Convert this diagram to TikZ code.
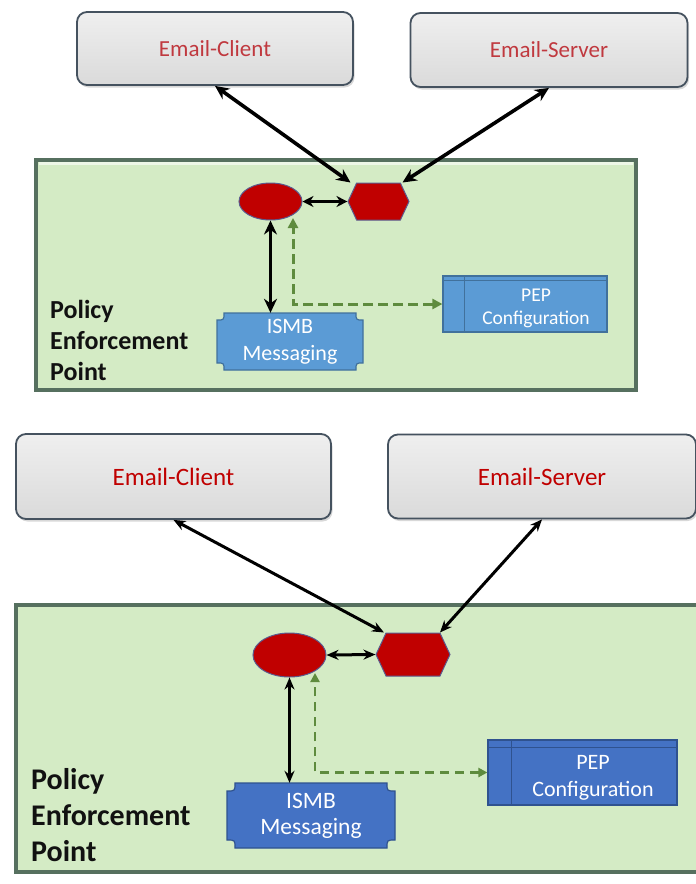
\documentclass[tikz,border=0pt]{standalone}
\usepackage{fontspec}
\setmainfont{Carlito}
\usetikzlibrary{arrows.meta,shapes.geometric,shapes.symbols,calc,shadows}
\definecolor{boxgray}{HTML}{E4E4E4}
\definecolor{boxtop}{HTML}{EFEFEF}
\definecolor{boxbot}{HTML}{DADADA}
\definecolor{boxedge}{HTML}{45525F}
\definecolor{txtredA}{HTML}{C0393F}
\definecolor{txtredB}{HTML}{C00000}
\definecolor{pepgreen}{HTML}{D4EBC5}
\definecolor{pepedge}{HTML}{56705F}
\definecolor{dotred}{HTML}{C00000}
\definecolor{dotedge}{HTML}{5B5B8E}
\definecolor{ltblue}{HTML}{5B9BD5}
\definecolor{ltblueedge}{HTML}{41719C}
\definecolor{dkblue}{HTML}{4472C4}
\definecolor{dkblueedge}{HTML}{2F528F}
\definecolor{dashgreen}{HTML}{5E8B3E}
\definecolor{inktext}{HTML}{111111}
\newcommand\fsz[2]{\fontsize{#1}{#2}\selectfont}
\begin{document}
\begin{tikzpicture}[x=1pt,y=1pt,
  graybox/.style={draw=boxedge, line width=1.8pt, top color=boxtop, bottom color=boxbot, rounded corners=10pt,
     drop shadow={opacity=0.3, shadow xshift=1.5pt, shadow yshift=-2.5pt}, inner sep=0pt},
  zone/.style={draw=pepedge, line width=3.5pt, fill=pepgreen, inner sep=0pt},
  redell/.style={ellipse, draw=dotedge, line width=1pt, fill=dotred, inner sep=0pt},
  redhex/.style={signal, signal to=west and east, signal pointer angle=130, draw=dotedge, line width=1pt, fill=dotred, inner sep=0pt},
  bluetext/.style={text=white, align=center, inner sep=0pt},
  biarrowA/.style={{Stealth[length=14pt,width=13pt]}-{Stealth[length=14pt,width=13pt]}, line width=3.6pt, black},
  biarrowB/.style={{Stealth[length=12pt,width=10pt]}-{Stealth[length=12pt,width=10pt]}, line width=3pt, black},
  dasharrowA/.style={{Triangle[length=10pt,width=10pt]}-{Triangle[length=10pt,width=10pt]}, dashgreen, line width=3pt, dash pattern=on 10pt off 5pt},
  dasharrowB/.style={{Triangle[length=9pt,width=9pt]}-{Triangle[length=9pt,width=9pt]}, dashgreen, line width=2.6pt, dash pattern=on 9pt off 6pt},
  policy/.style={anchor=north west, align=left, inner sep=0pt, text=inktext}
]
\useasboundingbox (0,0) rectangle (696,-884);
\clip (0,0) rectangle (696,-884);
\fill[white] (0,0) rectangle (696,-884);

% ================= upper diagram =================
\node[graybox, minimum width=276pt, minimum height=73pt, text=txtredA, font=\fsz{23}{28}] (ec1) at (215,-48.5) {Email-Client};
\node[graybox, minimum width=277pt, minimum height=74pt, text=txtredA, font=\fsz{23}{28}] (es1) at (549,-50) {Email-Server};

\node[zone, minimum width=600pt, minimum height=230pt] (zone1) at (336,-275) {};
\draw[white, opacity=0.6, line width=2.5pt] ($(zone1.north west)+(5,-5)$) -- ($(zone1.north east)+(-5,-5)$);

\node[redell, minimum width=63pt, minimum height=37pt] (ell1) at (270.5,-201.5) {};
\node[redhex, minimum width=61pt, minimum height=37pt] (hex1) at (378.5,-201.5) {};

\filldraw[fill=ltblue, draw=ltblueedge, line width=1.2pt]
  (224,-313) -- (356,-313) .. controls (356,-320) .. (363,-320) -- (363,-363)
  .. controls (356,-363) .. (356,-370) -- (224,-370) .. controls (224,-363) .. (217,-363)
  -- (217,-320) .. controls (224,-320) .. (224,-313) -- cycle;
\node[bluetext, font=\fsz{22}{27}, minimum width=146pt, minimum height=57pt] (ismb1) at (290,-341.5) {ISMB\\Messaging};

\node[fill=ltblue, draw=ltblueedge, line width=1.2pt, minimum width=164pt, minimum height=56pt, inner sep=0pt] (pep1) at (525,-304) {};
\draw[ltblueedge, line width=1.2pt] ($(pep1.north west)+(0,-5)$) -- ($(pep1.north east)+(0,-5)$);
\draw[ltblueedge, line width=1.2pt] ($(pep1.north west)+(22,0)$) -- ($(pep1.south west)+(22,0)$);
\node[bluetext, font=\fsz{19.5}{23}] (pep1t) at (536,-308.5) {PEP\\Configuration};

\node[policy, font=\bfseries\fsz{26}{31}] (pol1) at (50,-300) {Policy\\Enforcement\\Point};

\draw[biarrowA] (ec1.south) -- ($(hex1.north)+(-28,0)$);
\draw[biarrowA] (es1.south) -- ($(hex1.north)+(24,0)$);
\draw[biarrowA, line width=3pt, {Stealth[length=11pt,width=11pt]}-{Stealth[length=11pt,width=11pt]}] (ell1.east) -- (hex1.west);
\draw[biarrowA] (ell1.south) -- (ell1.south |- ismb1.north);
\draw[dasharrowA] (pep1.west) -| ($(ell1.center)+(22.5,-16.5)$);

% ================= lower diagram =================
\node[graybox, minimum width=315pt, minimum height=85pt, text=txtredB, font=\fsz{25}{30}] (ec2) at (173.5,-476.5) {Email-Client};
\node[graybox, minimum width=308pt, minimum height=84pt, text=txtredB, font=\fsz{25}{30}] (es2) at (542,-476.5) {Email-Server};

\node[zone, minimum width=694pt, minimum height=267pt] (zone2) at (363,-738.5) {};

\node[redell, minimum width=73pt, minimum height=44pt] (ell2) at (289.5,-655) {};
\node[redhex, minimum width=74pt, minimum height=43pt] (hex2) at (413,-654.5) {};

\filldraw[fill=dkblue, draw=dkblueedge, line width=1.2pt]
  (235,-783) -- (387,-783) .. controls (387,-791) .. (395,-791) -- (395,-840)
  .. controls (387,-840) .. (387,-848) -- (235,-848) .. controls (235,-840) .. (227,-840)
  -- (227,-791) .. controls (235,-791) .. (235,-783) -- cycle;
\node[bluetext, font=\fsz{23.5}{26}, minimum width=168pt, minimum height=65pt] (ismb2) at (311,-815.5) {ISMB\\Messaging};

\node[fill=dkblue, draw=dkblueedge, line width=1.2pt, minimum width=189pt, minimum height=65pt, inner sep=0pt] (pep2) at (582.5,-772.5) {};
\draw[dkblueedge, line width=1.2pt] ($(pep2.north west)+(0,-8)$) -- ($(pep2.north east)+(0,-8)$);
\draw[dkblueedge, line width=1.2pt] ($(pep2.north west)+(24,0)$) -- ($(pep2.south west)+(24,0)$);
\node[bluetext, font=\fsz{22}{27}] (pep2t) at (593,-777.5) {PEP\\Configuration};

\node[policy, font=\bfseries\fsz{30}{36}] (pol2) at (31,-768) {Policy\\Enforcement\\Point};

\draw[biarrowB] (ec2.south) -- ($(hex2.north)+(-29,0)$);
\draw[biarrowB] (es2.south) -- ($(hex2.north)+(27,0)$);
\draw[biarrowB] (ell2.east) -- (hex2.west);
\draw[biarrowB] (ell2.south) -- (ell2.south |- ismb2.north);
\draw[dasharrowB] (pep2.west) -| ($(ell2.center)+(25.5,-18)$);
\end{tikzpicture}
\end{document}
